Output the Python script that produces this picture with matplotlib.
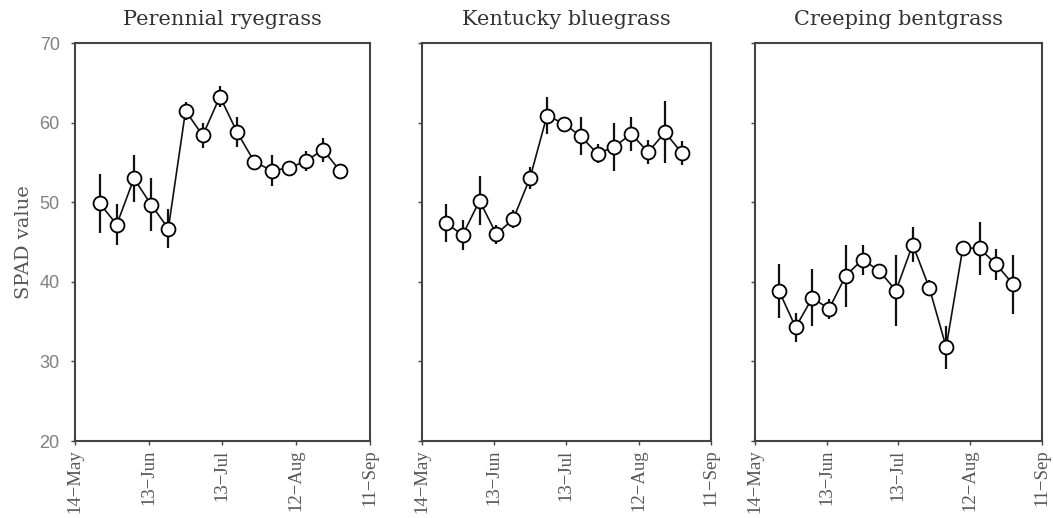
import datetime as dt
import matplotlib
matplotlib.use("Agg")
import matplotlib.pyplot as plt

# Sampling dates (weekly)
sample_dates = ["2009-05-24", "2009-05-31", "2009-06-07", "2009-06-14", "2009-06-21",
                "2009-06-28", "2009-07-05", "2009-07-12", "2009-07-19", "2009-07-26",
                "2009-08-02", "2009-08-09", "2009-08-16", "2009-08-23", "2009-08-30"]

species = ["Perennial ryegrass", "Kentucky bluegrass", "Creeping bentgrass"]

ryegrass_mean = [49.9, 47.2, 53.0, 49.7, 46.7, 61.5, 58.4, 63.3, 58.8, 55.1, 54.0, 54.3, 55.2, 56.6, 53.9]
ryegrass_err = [3.7, 2.6, 2.9, 3.3, 2.4, 1.1, 1.6, 1.3, 1.9, 0.8, 2.0, 0.7, 1.3, 1.5, 0.5]

bluegrass_mean = [47.4, 45.9, 50.2, 46.0, 47.9, 53.1, 60.9, 59.9, 58.3, 56.1, 57.0, 58.6, 56.3, 58.8, 56.2]
bluegrass_err = [2.4, 1.9, 3.1, 1.2, 1.1, 1.4, 2.3, 0.8, 2.4, 1.2, 3.0, 2.1, 1.5, 3.9, 1.5]

bentgrass_mean = [38.9, 34.3, 38.0, 36.6, 40.8, 42.8, 41.4, 38.9, 44.7, 39.2, 31.8, 44.3, 44.2, 42.2, 39.7]
bentgrass_err = [3.4, 1.8, 3.6, 1.3, 3.9, 1.9, 0.5, 4.5, 2.2, 1.0, 2.7, 0.4, 3.3, 1.9, 3.7]

tick_dates = ["2009-05-14", "2009-06-13", "2009-07-13", "2009-08-12", "2009-09-11"]
tick_labels = ["14\u2212May", "13\u2212Jun", "13\u2212Jul", "12\u2212Aug", "11\u2212Sep"]
y_ticks = [20, 30, 40, 50, 60, 70]

means = [ryegrass_mean, bluegrass_mean, bentgrass_mean]
errs = [ryegrass_err, bluegrass_err, bentgrass_err]

to_date = lambda s: dt.datetime.strptime(s, "%Y-%m-%d")
x = [to_date(s) for s in sample_dates]
xt = [to_date(s) for s in tick_dates]

fig = plt.figure(figsize=(10.53, 5.18), dpi=100)
lefts = [0.0712, 0.4005, 0.717]
widths = [0.280, 0.2745, 0.2723]
bottom, height = 0.1486, 0.768

spine_col = "#444444"
text_col = "#555555"
serif = ["DejaVu Serif"]

for i in range(3):
    ax = fig.add_axes([lefts[i], bottom, widths[i], height])
    ax.errorbar(x, means[i], yerr=errs[i], fmt="-", color="#111111", lw=1.2,
                elinewidth=1.6, capsize=0, zorder=2)
    ax.plot(x, means[i], "o", ms=10, mfc="white", mec="black", mew=1.3, zorder=3)
    ax.set_xlim(xt[0], xt[-1])
    ax.set_ylim(20, 70)
    ax.set_xticks(xt)
    ax.set_xticklabels(tick_labels, rotation=90, family="Liberation Serif",
                       fontsize=13.5, color=text_col)
    ax.set_yticks(y_ticks)
    if i == 0:
        ax.set_yticklabels([str(v) for v in y_ticks], family="Liberation Sans",
                           fontsize=13, color="#808080")
        ax.set_ylabel("SPAD value", family=serif, fontsize=14, color=text_col, labelpad=5)
    else:
        ax.set_yticklabels([])
    ax.tick_params(direction="out", length=3, width=1, color=spine_col, pad=3)
    ax.tick_params(axis="y", pad=8)
    for sp in ax.spines.values():
        sp.set_color(spine_col)
        sp.set_linewidth(1.5)
    ax.set_title(species[i], family=serif, fontsize=15, color="#333333", pad=13)

fig.savefig("out.png", dpi=100)
